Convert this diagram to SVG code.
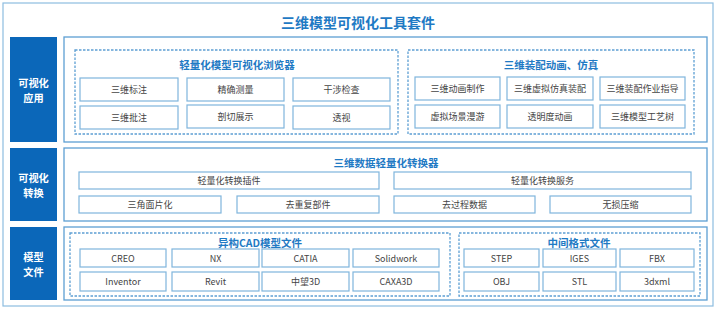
<svg xmlns="http://www.w3.org/2000/svg" width="717" height="311" viewBox="0 0 717 311">
<style>
text{font-family:"Noto Sans CJK SC","Liberation Sans",sans-serif;text-anchor:middle;dominant-baseline:central}
.outer{fill:#fff;stroke:#8dbde0;stroke-width:1.2}
.lab{fill:#0b67b9}
.labt{fill:#fff;font-size:10.2px;font-weight:bold}
.cont{fill:#fff;stroke:#5d9fd3;stroke-width:1.3}
.dash{fill:none;stroke:#5d9fd3;stroke-width:1.3;stroke-dasharray:2.5 1.5}
.box{fill:#fff;stroke:#7fb5dc;stroke-width:1.2}
.it{fill:#444;font-size:9px}
.sub{fill:#1f7ac4;font-size:10.5px;font-weight:bold}
.title{fill:#1f7ac4;font-size:14px;font-weight:bold}
</style>
<rect class="outer" x="3" y="3" width="710" height="303"/>
<text class="title" x="358" y="22">三维模型可视化工具套件</text>

<g id="label-app"><rect class="lab" x="10" y="37" width="47" height="105"/><text class="labt" x="33.5" y="82.5">可视化</text><text class="labt" x="33.5" y="97.5">应用</text></g>
<g id="label-conv"><rect class="lab" x="10" y="148" width="47" height="73"/><text class="labt" x="33.5" y="177.5">可视化</text><text class="labt" x="33.5" y="192.5">转换</text></g>
<g id="label-file"><rect class="lab" x="10" y="227" width="47" height="73"/><text class="labt" x="33.5" y="256.5">模型</text><text class="labt" x="33.5" y="271.5">文件</text></g>

<g id="row-app">
<rect class="cont" x="64" y="37" width="643" height="105"/>
<g id="browser">
<rect class="dash" x="75" y="50" width="323" height="84"/>
<text class="sub" x="237" y="64">轻量化模型可视化浏览器</text>
<rect class="box" x="80" y="78" width="98" height="23"/><text class="it" x="129" y="89.5">三维标注</text>
<rect class="box" x="187" y="78" width="97" height="23"/><text class="it" x="235.5" y="89.5">精确测量</text>
<rect class="box" x="293" y="78" width="97" height="23"/><text class="it" x="341.5" y="89.5">干涉检查</text>
<rect class="box" x="80" y="106" width="98" height="23"/><text class="it" x="129" y="117.5">三维批注</text>
<rect class="box" x="187" y="105" width="97" height="23"/><text class="it" x="235.5" y="116.5">剖切展示</text>
<rect class="box" x="293" y="106" width="97" height="23"/><text class="it" x="341.5" y="117.5">透视</text>
</g>
<g id="assembly">
<rect class="dash" x="408" y="50" width="286" height="84"/>
<text class="sub" x="551" y="64">三维装配动画、仿真</text>
<rect class="box" x="415" y="77" width="85" height="23"/><text class="it" x="457.5" y="88.5">三维动画制作</text>
<rect class="box" x="507" y="77" width="86" height="23"/><text class="it" x="550" y="88.5">三维虚拟仿真装配</text>
<rect class="box" x="600" y="77" width="85" height="23"/><text class="it" x="642.5" y="88.5">三维装配作业指导</text>
<rect class="box" x="415" y="105" width="85" height="23"/><text class="it" x="457.5" y="116.5">虚拟场景漫游</text>
<rect class="box" x="507" y="105" width="86" height="23"/><text class="it" x="550" y="116.5">透明度动画</text>
<rect class="box" x="600" y="105" width="85" height="23"/><text class="it" x="642.5" y="116.5">三维模型工艺树</text>
</g>
</g>

<g id="row-conv">
<rect class="cont" x="64" y="148" width="643" height="73"/>
<text class="sub" x="386" y="162">三维数据轻量化转换器</text>
<rect class="box" x="79" y="172" width="300" height="17"/><text class="it" x="229" y="180.5">轻量化转换插件</text>
<rect class="box" x="394" y="172" width="297" height="17"/><text class="it" x="542.5" y="180.5">轻量化转换服务</text>
<rect class="box" x="79" y="196" width="142" height="17"/><text class="it" x="150" y="204.5">三角面片化</text>
<rect class="box" x="237" y="196" width="142" height="17"/><text class="it" x="308" y="204.5">去重复部件</text>
<rect class="box" x="394" y="196" width="141" height="17"/><text class="it" x="464.5" y="204.5">去过程数据</text>
<rect class="box" x="550" y="196" width="141" height="17"/><text class="it" x="620.5" y="204.5">无损压缩</text>
</g>

<g id="row-file">
<rect class="cont" x="64" y="227" width="643" height="73"/>
<g id="cad">
<rect class="dash" x="70" y="233" width="380" height="63"/>
<text class="sub" x="260" y="242">异构CAD模型文件</text>
<rect class="box" x="80" y="249" width="86" height="18"/><text class="it" x="123" y="258">CREO</text>
<rect class="box" x="172" y="249" width="87" height="18"/><text class="it" x="215.5" y="258">NX</text>
<rect class="box" x="262" y="249" width="87" height="18"/><text class="it" x="305.5" y="258">CATIA</text>
<rect class="box" x="353" y="249" width="86" height="18"/><text class="it" x="396" y="258">Solidwork</text>
<rect class="box" x="80" y="272" width="86" height="19"/><text class="it" x="123" y="281.5">Inventor</text>
<rect class="box" x="172" y="272" width="87" height="19"/><text class="it" x="215.5" y="281.5">Revit</text>
<rect class="box" x="262" y="272" width="87" height="19"/><text class="it" x="305.5" y="281.5">中望3D</text>
<rect class="box" x="353" y="272" width="86" height="19"/><text class="it" x="396" y="281.5">CAXA3D</text>
</g>
<g id="mid">
<rect class="dash" x="459" y="233" width="241" height="63"/>
<text class="sub" x="579" y="242">中间格式文件</text>
<rect class="box" x="464" y="249" width="75" height="18"/><text class="it" x="501.5" y="258">STEP</text>
<rect class="box" x="543" y="249" width="73" height="18"/><text class="it" x="579.5" y="258">IGES</text>
<rect class="box" x="620" y="249" width="74" height="18"/><text class="it" x="657" y="258">FBX</text>
<rect class="box" x="464" y="272" width="75" height="19"/><text class="it" x="501.5" y="281.5">OBJ</text>
<rect class="box" x="543" y="272" width="73" height="19"/><text class="it" x="579.5" y="281.5">STL</text>
<rect class="box" x="620" y="272" width="74" height="19"/><text class="it" x="657" y="281.5">3dxml</text>
</g>
</g>
<g id="connectors"/>
</svg>
